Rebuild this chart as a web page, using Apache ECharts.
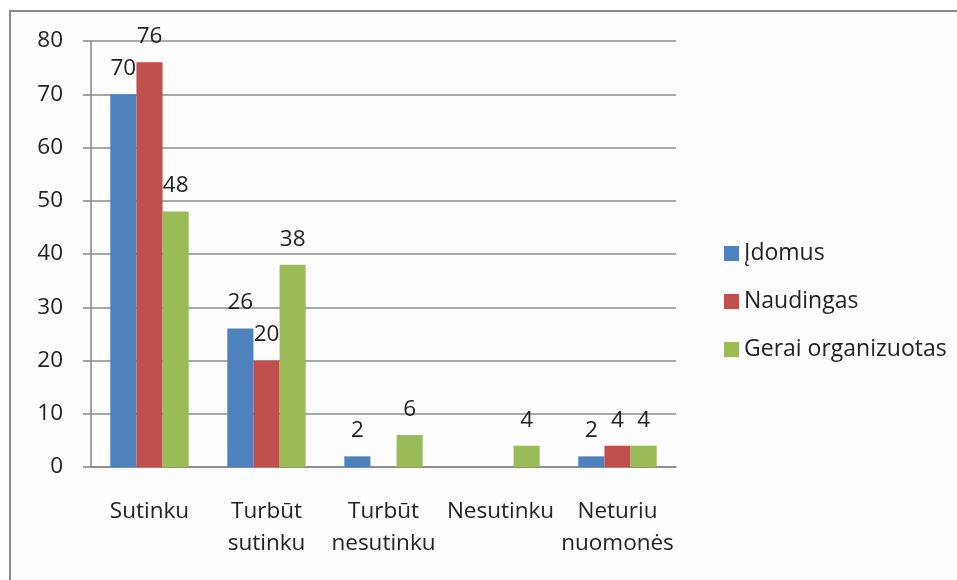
<!DOCTYPE html>
<html>
<head>
<meta charset="utf-8">
<script src="https://cdn.jsdelivr.net/npm/echarts@6/dist/echarts.min.js"></script>
<style>
  html, body { margin: 0; padding: 0; background: #fff; }
  #wrap { position: relative; width: 957px; height: 580px; overflow: hidden; }
  #frame {
    position: absolute; left: 9px; top: 10px; width: 960px; height: 580px;
    border: 2px solid #8a8a8a; background: #fdfdfd; box-sizing: border-box;
  }
  #main { position: absolute; left: 0; top: 0; width: 957px; height: 580px; }
</style>
</head>
<body>
<div id="wrap">
  <div id="frame"></div>
  <div id="main"></div>
</div>
<script>
// kategorijos ir atsakymai
var categories = ['Sutinku', 'Turbūt\nsutinku', 'Turbūt\nnesutinku', 'Nesutinku', 'Neturiu\nnuomonės']
var idomus = [70, 26, 2, 0, 2]
var naudingas = [76, 20, 0, 0, 4]
var geraiOrganizuotas = [48, 38, 6, 4, 4]
var yTicks = [0, 10, 20, 30, 40, 50, 60, 70, 80]

var fontFam = '"Open Sans", "Noto Sans", sans-serif'
var txtColor = '#222'
var fs = 22.5

function barSeries (name, data, color) {
  return {
    name: name,
    type: 'bar',
    data: data,
    barGap: '0%',
    barCategoryGap: '33%',
    itemStyle: { color: color },
    label: {
      show: true,
      position: 'top',
      distance: 14,
      fontSize: fs,
      fontFamily: fontFam,
      color: txtColor,
      formatter: function (p) { return p.value ? p.value : '' }
    }
  }
}

var myChart = echarts.init(document.getElementById('main'))
myChart.setOption({
  animation: false,
  grid: { left: 91, top: 41, right: 281, bottom: 113 },
  legend: {
    orient: 'vertical',
    left: 719,
    top: 237,
    itemWidth: 15,
    itemHeight: 15,
    itemGap: 25,
    icon: 'rect',
    textStyle: { fontSize: 23, fontFamily: fontFam, color: txtColor },
    data: ['Įdomus', 'Naudingas', 'Gerai organizuotas']
  },
  xAxis: {
    type: 'category',
    data: categories,
    axisLine: { lineStyle: { color: '#868686', width: 1.5 } },
    axisTick: { length: 10, lineStyle: { color: '#868686', width: 1.5 } },
    axisLabel: {
      fontSize: fs, fontFamily: fontFam, color: txtColor,
      margin: 29, lineHeight: 32, interval: 0
    }
  },
  yAxis: {
    type: 'value',
    min: yTicks[0],
    max: yTicks[yTicks.length - 1],
    interval: 10,
    axisLine: { show: true, lineStyle: { color: '#868686', width: 1.5 } },
    axisTick: { show: true, length: 8, lineStyle: { color: '#868686', width: 1.5 } },
    splitLine: { lineStyle: { color: '#8c8c8c', width: 1.5 } },
    axisLabel: { fontSize: fs, fontFamily: fontFam, color: txtColor, margin: 28 }
  },
  series: [
    barSeries('Įdomus', idomus, '#4F81BD'),
    barSeries('Naudingas', naudingas, '#C0504D'),
    barSeries('Gerai organizuotas', geraiOrganizuotas, '#9BBB59')
  ]
})
</script>
</body>
</html>
